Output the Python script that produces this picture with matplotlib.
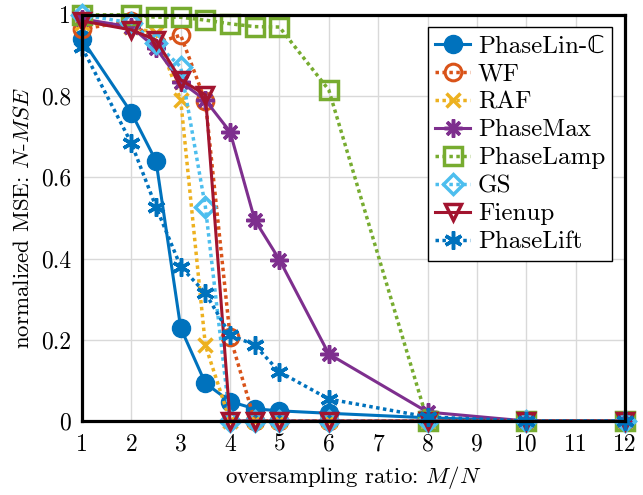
import matplotlib.pyplot as plt

plt.rcParams['font.family'] = ['cmr10', 'DejaVu Sans']
plt.rcParams['mathtext.fontset'] = 'cm'
plt.rcParams['axes.formatter.use_mathtext'] = True

# oversampling ratios
ratio = [1, 2, 2.5, 3, 3.5, 4, 4.5, 5, 6, 8, 10, 12]

phaselin = [0.94, 0.759, 0.64, 0.229, 0.093, 0.048, 0.030, 0.025, 0.019, 0.008, 0.0, 0.0]
wf = [0.965, 0.985, 0.93, 0.95, 0.787, 0.208, 0.0, 0.0, 0.0, 0.0, 0.0, 0.0]
raf = [0.98, 0.97, 0.955, 0.79, 0.186, 0.0, 0.0, 0.0, 0.0, 0.0, 0.0, 0.0]
phasemax = [0.99, 0.97, 0.918, 0.835, 0.79, 0.712, 0.495, 0.397, 0.165, 0.022, 0.0, 0.0]
phaselamp = [1.0, 1.0, 0.994, 0.994, 0.987, 0.978, 0.971, 0.97, 0.815, 0.0, 0.0, 0.0]
gs = [1.0, 0.98, 0.93, 0.872, 0.527, 0.0, 0.0, 0.0, 0.0, 0.0, 0.0, 0.0]
fienup = [0.985, 0.963, 0.938, 0.84, 0.803, 0.0, 0.0, 0.0, 0.0, 0.0, 0.0, 0.0]
phaselift = [0.92, 0.684, 0.527, 0.38, 0.315, 0.212, 0.187, 0.121, 0.054, 0.01, 0.0, 0.0]

fig = plt.figure(figsize=(6.43, 4.95), dpi=100)
ax = fig.add_axes([0.1275, 0.1495, 0.8445, 0.8205])

dot = (0, (1, 1))
ax.plot(ratio, phaselin, '-', color='#0072BD', lw=2.2, marker='o', ms=13,
        mfc='#0072BD', mec='#0072BD', label='PhaseLin-ℂ', clip_on=False)
ax.plot(ratio, wf, ls=dot, color='#D95319', lw=2.5, marker='o', ms=12,
        mfc='none', mew=2.2, label='WF', clip_on=False)
ax.plot(ratio, raf, ls=dot, color='#EDB120', lw=2.5, marker='x', ms=10,
        mew=2.5, label='RAF', clip_on=False)
ax.plot(ratio, phasemax, '-', color='#7E2F8E', lw=2.2, marker=(8, 2, 0), ms=13,
        mew=2.5, label='PhaseMax', clip_on=False)
ax.plot(ratio, phaselamp, ls=dot, color='#77AC30', lw=2.5, marker='s', ms=13.5,
        mfc='none', mew=2.5, label='PhaseLamp', clip_on=False)
ax.plot(ratio, gs, ls=dot, color='#4DBEEE', lw=2.5, marker='D', ms=10,
        mfc='none', mew=2.5, label='GS', clip_on=False)
ax.plot(ratio, fienup, '-', color='#A2142F', lw=2.2, marker='v', ms=12,
        mfc='none', mew=2.5, label='Fienup', clip_on=False)
ax.plot(ratio, phaselift, ls=dot, color='#0072BD', lw=2.5, marker=(6, 2, 0), ms=13,
        mew=2.5, label='PhaseLift', clip_on=False)

ax.set_xlim(1, 12)
ax.set_ylim(0, 1)
ax.set_xticks(range(1, 13))
ax.set_xticklabels([str(i) for i in range(1, 13)])
ax.set_yticks([0, 0.2, 0.4, 0.6, 0.8, 1])
ax.set_yticklabels(['0', '0.2', '0.4', '0.6', '0.8', '1'])
ax.tick_params(labelsize=17, direction='in', length=0)
ax.tick_params(axis='x', pad=9)
ax.tick_params(axis='y', pad=8)
ax.grid(True, color='#d9d9d9', lw=1)
ax.set_axisbelow(True)
for s in ax.spines.values():
    s.set_linewidth(2.3)
    s.set_color('black')

ax.set_xlabel('oversampling ratio: $M/N$', fontsize=16.5, labelpad=6)
ax.set_ylabel('normalized MSE: $\\mathit{N}$-$\\mathit{MSE}$', fontsize=16.5, labelpad=6)

leg = ax.legend(loc='upper right', fontsize=18, frameon=True, fancybox=False,
                edgecolor='black', framealpha=1, labelspacing=0.22,
                handlelength=1.4, handletextpad=0.3, borderpad=0.3,
                borderaxespad=0.5)
leg.get_frame().set_linewidth(1.0)

plt.savefig('out.png', dpi=100)
